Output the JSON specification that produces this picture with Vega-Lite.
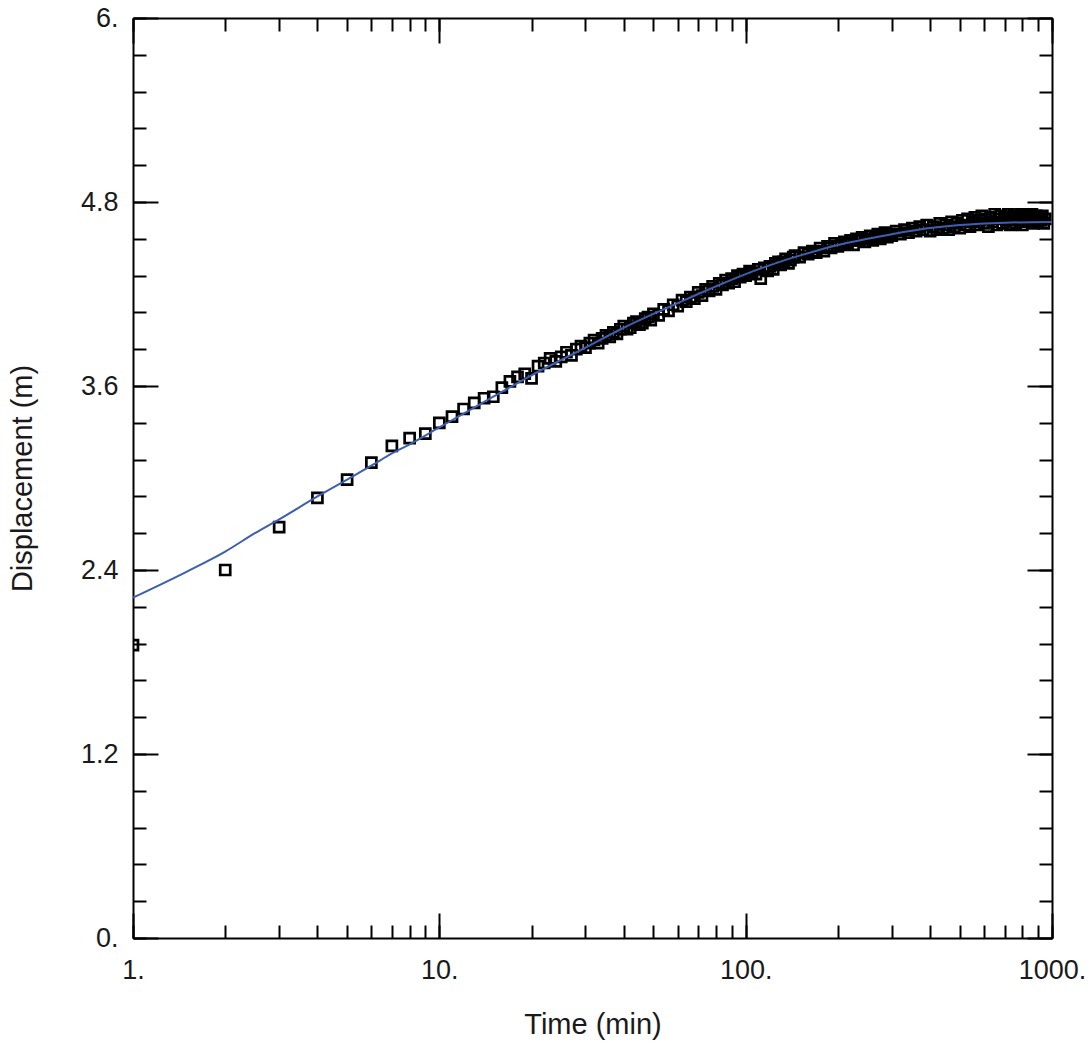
{
  "$schema": "https://vega.github.io/schema/vega-lite/v6.json",
  "width": 919,
  "height": 920,
  "autosize": "none",
  "padding": {"left": 133, "top": 18, "right": 40, "bottom": 106},
  "background": "white",
  "config": {
    "view": {"stroke": null},
    "axis": {
      "grid": false,
      "domainColor": "black",
      "domainWidth": 2,
      "tickColor": "black",
      "tickWidth": 2,
      "labelFont": "Liberation Sans",
      "labelFontSize": 27,
      "labelColor": "#1a1a1a",
      "labelFlush": false,
      "labelOverlap": false,
      "labelBound": false,
      "titleFont": "Liberation Sans",
      "titleFontSize": 29,
      "titleFontWeight": "normal",
      "titleColor": "#1a1a1a"
    }
  },
  "datasets": {
    "obs": [
      {"t": 1, "d": 1.91}, {"t": 2, "d": 2.40}, {"t": 3, "d": 2.68}, {"t": 4, "d": 2.87}, {"t": 5, "d": 2.99},
      {"t": 6, "d": 3.10}, {"t": 7, "d": 3.21}, {"t": 8, "d": 3.26}, {"t": 9, "d": 3.29}, {"t": 10, "d": 3.36},
      {"t": 11, "d": 3.40}, {"t": 12, "d": 3.45}, {"t": 13, "d": 3.49}, {"t": 14, "d": 3.52}, {"t": 15, "d": 3.53},
      {"t": 16, "d": 3.59}, {"t": 17, "d": 3.63}, {"t": 18, "d": 3.66}, {"t": 19, "d": 3.68}, {"t": 20, "d": 3.65},
      {"t": 21, "d": 3.73}, {"t": 22, "d": 3.75}, {"t": 23, "d": 3.78}, {"t": 24, "d": 3.76}, {"t": 25, "d": 3.79},
      {"t": 26, "d": 3.82}, {"t": 27, "d": 3.80}, {"t": 28, "d": 3.84}, {"t": 29, "d": 3.86}, {"t": 30, "d": 3.85},
      {"t": 31, "d": 3.88}, {"t": 32, "d": 3.90}, {"t": 33, "d": 3.88}, {"t": 34, "d": 3.91}, {"t": 35, "d": 3.93},
      {"t": 36, "d": 3.92}, {"t": 37, "d": 3.95}, {"t": 38, "d": 3.94}, {"t": 39, "d": 3.97}, {"t": 40, "d": 3.99},
      {"t": 41, "d": 3.97}, {"t": 42, "d": 3.98}, {"t": 43, "d": 4.01}, {"t": 44, "d": 4.02}, {"t": 45, "d": 4.00},
      {"t": 46, "d": 4.01}, {"t": 47, "d": 4.04}, {"t": 48, "d": 4.05}, {"t": 49, "d": 4.03}, {"t": 50, "d": 4.07},
      {"t": 52, "d": 4.06}, {"t": 54, "d": 4.10}, {"t": 56, "d": 4.09}, {"t": 58, "d": 4.13}, {"t": 60, "d": 4.12},
      {"t": 62, "d": 4.16}, {"t": 64, "d": 4.15}, {"t": 66, "d": 4.18}, {"t": 68, "d": 4.17}, {"t": 70, "d": 4.21},
      {"t": 72, "d": 4.19}, {"t": 74, "d": 4.23}, {"t": 76, "d": 4.22}, {"t": 78, "d": 4.25}, {"t": 80, "d": 4.23},
      {"t": 82, "d": 4.27}, {"t": 84, "d": 4.26}, {"t": 86, "d": 4.29}, {"t": 88, "d": 4.27}, {"t": 90, "d": 4.30},
      {"t": 92, "d": 4.28}, {"t": 94, "d": 4.32}, {"t": 96, "d": 4.31}, {"t": 98, "d": 4.33}, {"t": 100, "d": 4.32},
      {"t": 103, "d": 4.35}, {"t": 105, "d": 4.34}, {"t": 108, "d": 4.33}, {"t": 110, "d": 4.36}, {"t": 112, "d": 4.30},
      {"t": 115, "d": 4.37}, {"t": 118, "d": 4.35}, {"t": 120, "d": 4.38}, {"t": 123, "d": 4.36},
      {"t": 125, "d": 4.40}, {"t": 128, "d": 4.41}, {"t": 130, "d": 4.39}, {"t": 133, "d": 4.41}, {"t": 135, "d": 4.43}, {"t": 138, "d": 4.40}, {"t": 140, "d": 4.42}, {"t": 143, "d": 4.44}, {"t": 145, "d": 4.45},
      {"t": 150, "d": 4.44}, {"t": 155, "d": 4.47}, {"t": 160, "d": 4.46}, {"t": 165, "d": 4.48}, {"t": 170, "d": 4.47},
      {"t": 175, "d": 4.50}, {"t": 180, "d": 4.48}, {"t": 185, "d": 4.51}, {"t": 190, "d": 4.50}, {"t": 195, "d": 4.53},
      {"t": 200, "d": 4.51}, {"t": 205, "d": 4.52}, {"t": 210, "d": 4.54}, {"t": 215, "d": 4.53}, {"t": 220, "d": 4.55},
      {"t": 225, "d": 4.52}, {"t": 230, "d": 4.56}, {"t": 235, "d": 4.55}, {"t": 240, "d": 4.57}, {"t": 245, "d": 4.54},
      {"t": 250, "d": 4.56}, {"t": 255, "d": 4.58}, {"t": 260, "d": 4.55}, {"t": 265, "d": 4.57}, {"t": 270, "d": 4.59},
      {"t": 275, "d": 4.56}, {"t": 280, "d": 4.58}, {"t": 285, "d": 4.60}, {"t": 290, "d": 4.57}, {"t": 295, "d": 4.59},
      {"t": 300, "d": 4.58}, {"t": 310, "d": 4.61}, {"t": 320, "d": 4.59}, {"t": 330, "d": 4.62}, {"t": 340, "d": 4.60},
      {"t": 350, "d": 4.63}, {"t": 360, "d": 4.61}, {"t": 370, "d": 4.64}, {"t": 380, "d": 4.62}, {"t": 390, "d": 4.65},
      {"t": 400, "d": 4.61}, {"t": 410, "d": 4.64}, {"t": 420, "d": 4.62}, {"t": 430, "d": 4.66}, {"t": 440, "d": 4.63},
      {"t": 450, "d": 4.65}, {"t": 460, "d": 4.62}, {"t": 470, "d": 4.67}, {"t": 480, "d": 4.64}, {"t": 490, "d": 4.66},
      {"t": 500, "d": 4.63}, {"t": 510, "d": 4.68}, {"t": 520, "d": 4.65}, {"t": 530, "d": 4.69}, {"t": 540, "d": 4.64},
      {"t": 550, "d": 4.67}, {"t": 560, "d": 4.70}, {"t": 570, "d": 4.65}, {"t": 580, "d": 4.68}, {"t": 590, "d": 4.71},
      {"t": 600, "d": 4.66}, {"t": 610, "d": 4.69}, {"t": 620, "d": 4.64}, {"t": 630, "d": 4.70}, {"t": 640, "d": 4.67},
      {"t": 650, "d": 4.72}, {"t": 660, "d": 4.65}, {"t": 670, "d": 4.69}, {"t": 680, "d": 4.71}, {"t": 690, "d": 4.66},
      {"t": 700, "d": 4.70}, {"t": 710, "d": 4.68}, {"t": 720, "d": 4.72}, {"t": 730, "d": 4.65}, {"t": 740, "d": 4.69},
      {"t": 750, "d": 4.71}, {"t": 760, "d": 4.66}, {"t": 770, "d": 4.70}, {"t": 780, "d": 4.68}, {"t": 790, "d": 4.72},
      {"t": 800, "d": 4.65}, {"t": 810, "d": 4.69}, {"t": 820, "d": 4.71}, {"t": 830, "d": 4.67}, {"t": 840, "d": 4.70},
      {"t": 850, "d": 4.68}, {"t": 860, "d": 4.72}, {"t": 870, "d": 4.66}, {"t": 880, "d": 4.69}, {"t": 890, "d": 4.71},
      {"t": 900, "d": 4.67}, {"t": 910, "d": 4.70}, {"t": 920, "d": 4.68}, {"t": 930, "d": 4.71}, {"t": 940, "d": 4.66},
      {"t": 950, "d": 4.69}
    ],
    "fit": [
      {"t": 1, "d": 2.22}, {"t": 1.5, "d": 2.39}, {"t": 2, "d": 2.52}, {"t": 2.5, "d": 2.64}, {"t": 3, "d": 2.73},
      {"t": 4, "d": 2.88}, {"t": 5, "d": 2.99}, {"t": 6, "d": 3.08}, {"t": 7, "d": 3.16}, {"t": 8, "d": 3.22},
      {"t": 10, "d": 3.33}, {"t": 12, "d": 3.42}, {"t": 15, "d": 3.53}, {"t": 20, "d": 3.67}, {"t": 25, "d": 3.77},
      {"t": 30, "d": 3.85}, {"t": 40, "d": 3.98}, {"t": 50, "d": 4.07}, {"t": 60, "d": 4.14}, {"t": 70, "d": 4.20},
      {"t": 80, "d": 4.25}, {"t": 100, "d": 4.33}, {"t": 125, "d": 4.40}, {"t": 150, "d": 4.45}, {"t": 200, "d": 4.52},
      {"t": 250, "d": 4.56}, {"t": 300, "d": 4.59}, {"t": 400, "d": 4.63}, {"t": 500, "d": 4.65}, {"t": 700, "d": 4.665},
      {"t": 1000, "d": 4.67}
    ]
  },
  "layer": [
    {
      "data": {"name": "obs"},
      "mark": {"type": "point", "shape": "square", "size": 100, "filled": false, "stroke": "black", "strokeWidth": 2.7, "opacity": 1, "clip": true},
      "encoding": {
        "x": {
          "field": "t", "type": "quantitative",
          "scale": {"type": "log", "domain": [1, 1000], "nice": false},
          "axis": {
            "orient": "bottom",
            "title": "Time (min)",
            "titleY": 95,
            "titleBaseline": "alphabetic",
            "values": [1,2,3,4,5,6,7,8,9,10,20,30,40,50,60,70,80,90,100,200,300,400,500,600,700,800,900,1000],
            "labelExpr": "abs(log(datum.value)/LN10 - round(log(datum.value)/LN10)) < 0.001 ? format(datum.value, 'd') + '.' : ''",
            "tickSize": -13,
            "labelPadding": 32
          }
        },
        "y": {
          "field": "d", "type": "quantitative",
          "scale": {"domain": [0, 6], "nice": false, "zero": false},
          "axis": {
            "orient": "left",
            "title": "Displacement (m)",
            "titleX": -102,
            "titleBaseline": "alphabetic",
            "values": [0,0.24,0.48,0.72,0.96,1.2,1.44,1.68,1.92,2.16,2.4,2.64,2.88,3.12,3.36,3.6,3.84,4.08,4.32,4.56,4.8,5.04,5.28,5.52,5.76,6],
            "labelExpr": "abs(datum.value/1.2 - round(datum.value/1.2)) < 0.001 ? (datum.value == 0 ? '0.' : (datum.value == 6 ? '6.' : format(datum.value, '.1f'))) : ''",
            "tickSize": -13,
            "labelPadding": 28
          }
        }
      }
    },
    {
      "data": {"name": "fit"},
      "mark": {"type": "line", "strokeOpacity": 0, "clip": true},
      "encoding": {
        "x": {
          "field": "t", "type": "quantitative",
          "scale": {"type": "log", "domain": [1, 1000], "nice": false},
          "axis": {"orient": "bottom", "title": null, "labels": false, "domain": false, "values": [1, 10, 100, 1000], "tickSize": -25}
        },
        "y": {
          "field": "d", "type": "quantitative",
          "scale": {"domain": [0, 6], "nice": false, "zero": false},
          "axis": {"orient": "left", "title": null, "labels": false, "domain": false, "values": [0, 1.2, 2.4, 3.6, 4.8, 6], "tickSize": -25}
        }
      }
    },
    {
      "data": {"name": "fit"},
      "mark": {"type": "line", "strokeOpacity": 0, "clip": true},
      "encoding": {
        "x": {
          "field": "t", "type": "quantitative",
          "scale": {"type": "log", "domain": [1, 1000], "nice": false},
          "axis": {"orient": "top", "title": null, "labels": false, "domain": false, "values": [1, 10, 100, 1000], "tickSize": -25}
        },
        "y": {
          "field": "d", "type": "quantitative",
          "scale": {"domain": [0, 6], "nice": false, "zero": false},
          "axis": {"orient": "right", "title": null, "labels": false, "domain": false, "values": [0, 1.2, 2.4, 3.6, 4.8, 6], "tickSize": -25}
        }
      }
    },
    {
      "data": {"name": "fit"},
      "mark": {"type": "line", "color": "#3d5fb0", "strokeWidth": 2, "clip": true, "interpolate": "monotone"},
      "encoding": {
        "x": {
          "field": "t", "type": "quantitative",
          "scale": {"type": "log", "domain": [1, 1000], "nice": false},
          "axis": {
            "orient": "top",
            "title": null,
            "labels": false,
            "values": [1,2,3,4,5,6,7,8,9,10,20,30,40,50,60,70,80,90,100,200,300,400,500,600,700,800,900,1000],
            "tickSize": -13
          }
        },
        "y": {
          "field": "d", "type": "quantitative",
          "scale": {"domain": [0, 6], "nice": false, "zero": false},
          "axis": {
            "orient": "right",
            "title": null,
            "labels": false,
            "values": [0,0.24,0.48,0.72,0.96,1.2,1.44,1.68,1.92,2.16,2.4,2.64,2.88,3.12,3.36,3.6,3.84,4.08,4.32,4.56,4.8,5.04,5.28,5.52,5.76,6],
            "tickSize": -13
          }
        }
      }
    }
  ],
  "resolve": {"axis": {"x": "independent", "y": "independent"}}
}
